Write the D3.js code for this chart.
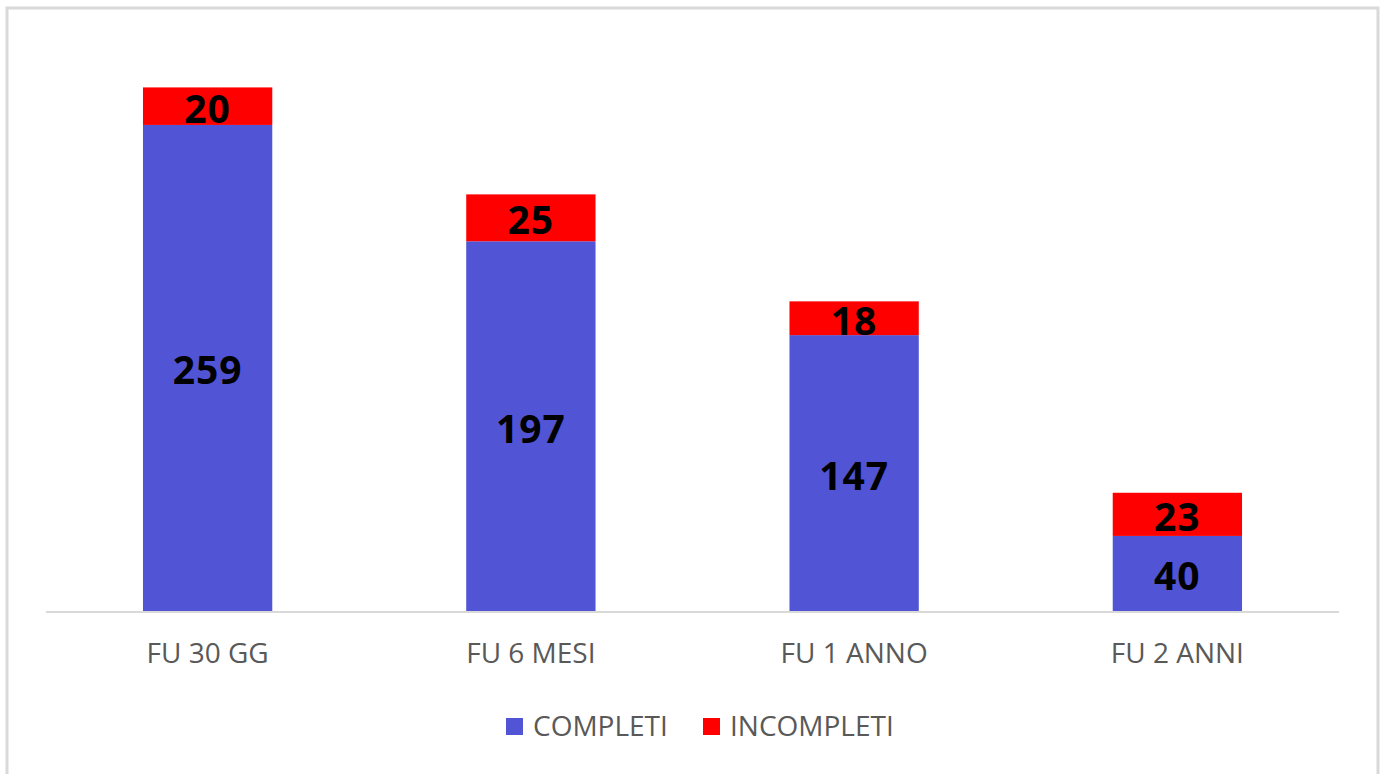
<!DOCTYPE html>
<html>
<head>
<meta charset="utf-8">
<script src="https://cdn.jsdelivr.net/npm/d3@7"></script>
<style>
  html, body { margin: 0; padding: 0; background: #fff; }
  svg { display: block; }
</style>
</head>
<body>
<div id="chart"></div>
<script>
// follow-up categories and the two stacked series
const categories = ["FU 30 GG", "FU 6 MESI", "FU 1 ANNO", "FU 2 ANNI"];
const completi = [259, 197, 147, 40];
const incompleti = [20, 25, 18, 23];
const seriesNames = ["COMPLETI", "INCOMPLETI"];
const seriesColors = ["#5154d4", "#ff0000"];

const W = 1386, H = 774;
const margin = { top: 48, right: 47, bottom: 163, left: 46 };

const svg = d3.select("#chart").append("svg")
  .attr("width", W).attr("height", H);

// chart frame
svg.append("rect")
  .attr("x", 7).attr("y", 8)
  .attr("width", 1371).attr("height", 780)
  .attr("fill", "#fff")
  .attr("stroke", "#d9d9d9").attr("stroke-width", 3);

const x = d3.scaleBand()
  .domain(categories)
  .range([margin.left, W - margin.right])
  .paddingInner(0.6).paddingOuter(0.3);

const y = d3.scaleLinear()
  .domain([0, 300])
  .range([H - margin.bottom, margin.top]);

const rows = categories.map((c, i) => ({ cat: c, COMPLETI: completi[i], INCOMPLETI: incompleti[i] }));
const stacked = d3.stack().keys(seriesNames)(rows);

const labelFont = "'Open Sans', 'Noto Sans', sans-serif";

stacked.forEach((layer, li) => {
  const g = svg.append("g");
  g.selectAll("rect")
    .data(layer)
    .join("rect")
    .attr("x", d => x(d.data.cat))
    .attr("y", d => y(d[1]))
    .attr("width", x.bandwidth())
    .attr("height", d => y(d[0]) - y(d[1]))
    .attr("fill", seriesColors[li]);

  g.selectAll("text")
    .data(layer)
    .join("text")
    .attr("x", d => x(d.data.cat) + x.bandwidth() / 2)
    .attr("y", d => (y(d[0]) + y(d[1])) / 2 + 1)
    .attr("text-anchor", "middle")
    .attr("dominant-baseline", "central")
    .attr("font-family", labelFont)
    .attr("font-weight", "bold")
    .attr("font-size", 39)
    .attr("letter-spacing", 1)
    .attr("fill", "#000")
    .text(d => d[1] - d[0]);
});

// x axis
const xAxis = svg.append("g")
  .attr("transform", `translate(0,${y(0) + 1})`)
  .call(d3.axisBottom(x).tickSize(0).tickPadding(31));
xAxis.select(".domain")
  .attr("stroke", "#d9d9d9").attr("stroke-width", 2)
  .attr("d", `M${margin.left},0H${W - margin.right}`);
xAxis.selectAll("text")
  .attr("font-family", labelFont)
  .attr("font-size", 28)
  .attr("fill", "#595959");

// legend
const legendItems = [
  { name: seriesNames[0], color: seriesColors[0], x: 506 },
  { name: seriesNames[1], color: seriesColors[1], x: 703 }
];
const lg = svg.append("g");
legendItems.forEach(it => {
  lg.append("rect")
    .attr("x", it.x).attr("y", 718)
    .attr("width", 17).attr("height", 17)
    .attr("fill", it.color);
  lg.append("text")
    .attr("x", it.x + 27).attr("y", 736)
    .attr("font-family", labelFont)
    .attr("font-size", 28)
    .attr("fill", "#595959")
    .text(it.name);
});
</script>
</body>
</html>
